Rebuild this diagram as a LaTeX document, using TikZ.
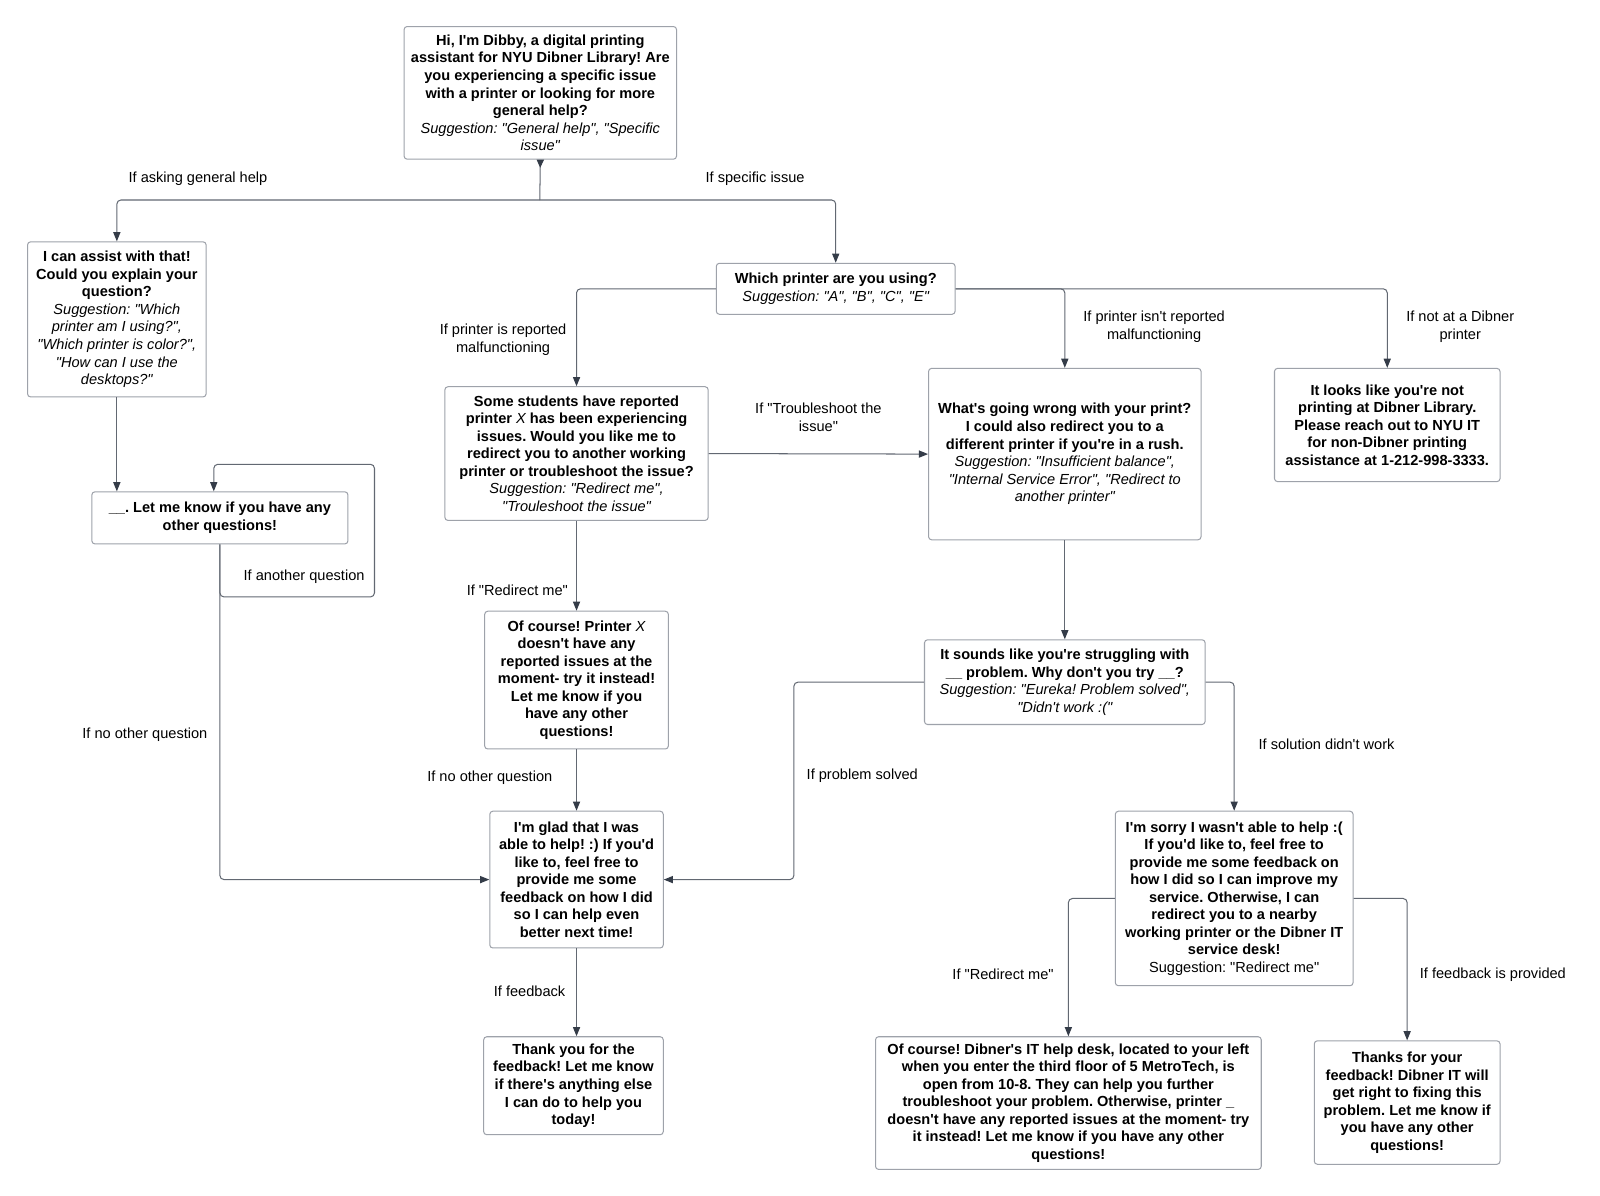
\documentclass[tikz,border=0pt]{standalone}
\usepackage{fontspec}
\setmainfont{Liberation Sans}[Ligatures=TeXOff]
\usetikzlibrary{arrows.meta, positioning}
\definecolor{edgegray}{RGB}{158,162,170}
\definecolor{linkgray}{RGB}{98,104,114}
\definecolor{tipdark}{RGB}{52,60,72}
\newcommand{\hint}[1]{{\mdseries\itshape #1}}
\frenchspacing

\begin{document}
\begin{tikzpicture}[x=1pt, y=-1pt,
  msgbox/.style={draw=edgegray, line width=1pt, fill=white, rounded corners=3pt, align=center, inner sep=3pt,
    font=\fontsize{14.3}{17.2}\selectfont\bfseries},
  condlabel/.style={align=center, inner sep=1pt, font=\fontsize{14.3}{17.2}\selectfont},
  linkplain/.style={draw=linkgray, line width=1pt, rounded corners=4pt},
  linkarrow/.style={linkplain, -{Triangle[length=9pt, width=7pt, color=tipdark]}}]

  \path[use as bounding box, fill=white] (0,0) rectangle (1568,1172);

  % messages
  \node[msgbox, minimum width=267pt, minimum height=130pt] (start) at (529.5,91) {
    Hi, I'm Dibby, a digital printing\\
    assistant for NYU Dibner Library! Are\\
    you experiencing a specific issue\\
    with a printer or looking for more\\
    general help?\\
    \hint{Suggestion: "General help", "Specific}\\
    \hint{issue"}};
  \node[msgbox, minimum width=175pt, minimum height=152pt] (general) at (114.5,313) {
    I can assist with that!\\
    Could you explain your\\
    question?\\
    \hint{Suggestion: "Which}\\
    \hint{printer am I using?",}\\
    \hint{"Which printer is color?",}\\
    \hint{"How can I use the}\\
    \hint{desktops?"}};
  \node[msgbox, minimum width=234pt, minimum height=50pt] (which) at (819,283) {
    Which printer are you using?\\
    \hint{Suggestion: "A", "B", "C", "E"}};
  \node[msgbox, minimum width=258pt, minimum height=131pt] (reported) at (565,444.5) {
    Some students have reported\\
    printer \hint{X} has been experiencing\\
    issues. Would you like me to\\
    redirect you to another working\\
    printer or troubleshoot the issue?\\
    \hint{Suggestion: "Redirect me",}\\
    \hint{"Trouleshoot the issue"}};
  \node[msgbox, minimum width=267pt, minimum height=168pt] (whatwrong) at (1043.5,445) {
    What's going wrong with your print?\\
    I could also redirect you to a\\
    different printer if you're in a rush.\\
    \hint{Suggestion: "Insufficient balance",}\\
    \hint{"Internal Service Error", "Redirect to}\\
    \hint{another printer"}};
  \node[msgbox, minimum width=221pt, minimum height=111pt] (notdibner) at (1359.5,416.5) {
    It looks like you're not\\
    printing at Dibner Library.\\
    Please reach out to NYU IT\\
    for non-Dibner printing\\
    assistance at 1-212-998-3333.};
  \node[msgbox, minimum width=251pt, minimum height=51pt] (letmeknow) at (215.5,507.5) {
    \_\_. Let me know if you have any\\
    other questions!};
  \node[msgbox, minimum width=180pt, minimum height=135pt] (ofcourse) at (565,666.5) {
    Of course! Printer \hint{X}\\
    doesn't have any\\
    reported issues at the\\
    moment- try it instead!\\
    Let me know if you\\
    have any other\\
    questions!};
  \node[msgbox, minimum width=275pt, minimum height=83pt] (sounds) at (1043.5,668.5) {
    It sounds like you're struggling with\\
    \_\_ problem. Why don't you try \_\_?\\
    \hint{Suggestion: "Eureka! Problem solved",}\\
    \hint{"Didn't work :("}};
  \node[msgbox, minimum width=170pt, minimum height=134pt] (glad) at (565,862) {
    I'm glad that I was\\
    able to help! :) If you'd\\
    like to, feel free to\\
    provide me some\\
    feedback on how I did\\
    so I can help even\\
    better next time!};
  \node[msgbox, minimum width=233pt, minimum height=171pt] (sorry) at (1209.5,880.5) {
    I'm sorry I wasn't able to help :(\\
    If you'd like to, feel free to\\
    provide me some feedback on\\
    how I did so I can improve my\\
    service. Otherwise, I can\\
    redirect you to a nearby\\
    working printer or the Dibner IT\\
    service desk!\\
    {\mdseries Suggestion: "Redirect me"}};
  \node[msgbox, minimum width=176pt, minimum height=96pt] (thankyou) at (562,1064) {
    Thank you for the\\
    feedback! Let me know\\
    if there's anything else\\
    I can do to help you\\
    today!};
  \node[msgbox, minimum width=378pt, minimum height=130pt] (ithelp) at (1047,1081) {
    Of course! Dibner's IT help desk, located to your left\\
    when you enter the third floor of 5 MetroTech, is\\
    open from 10-8. They can help you further\\
    troubleshoot your problem. Otherwise, printer \_\\
    doesn't have any reported issues at the moment- try\\
    it instead! Let me know if you have any other\\
    questions!};
  \node[msgbox, minimum width=182pt, minimum height=121pt] (thanksfb) at (1379,1080.5) {
    Thanks for your\\
    feedback! Dibner IT will\\
    get right to fixing this\\
    problem. Let me know if\\
    you have any other\\
    questions!};

  % bends
  \coordinate (split) at (529,196);
  \coordinate (loopbot) at (367,585);
  \coordinate (looptop) at (367,455);
  \coordinate (solvedbend) at (778,760);

  % connectors
  \draw[linkplain, {Triangle[reversed, length=8pt, width=7pt, color=tipdark]}-] (start.south) -- (split);
  \draw[linkarrow] (split) -| (general.north);
  \draw[linkarrow] (split) -| (which.north);
  \draw[linkarrow] (which.west) -| (reported.north);
  \draw[linkarrow] (which.east) -| (whatwrong.north);
  \draw[linkarrow] (which.east) -| (notdibner.north);
  \draw[linkarrow] (reported.east) -- (whatwrong.west);
  \draw[linkarrow] (reported.south) -- (ofcourse.north);
  \draw[linkarrow] (general.south) -- (general.south |- letmeknow.north);
  \draw[linkarrow] (letmeknow.south) |- (loopbot) -- (looptop) -| ([xshift=-6pt]letmeknow.north);
  \draw[linkarrow] (letmeknow.south) |- (glad.west);
  \draw[linkarrow] (ofcourse.south) -- (glad.north);
  \draw[linkarrow] (whatwrong.south) -- (sounds.north);
  \draw[linkarrow] (sounds.west) -| (solvedbend) |- (glad.east);
  \draw[linkarrow] (sounds.east) -| (sorry.north);
  \draw[linkarrow] (glad.south) -- (glad.south |- thankyou.north);
  \draw[linkarrow] (sorry.west) -| (ithelp.north);
  \draw[linkarrow] (sorry.east) -| (thanksfb.north);

  % conditions
  \node[condlabel] (lgeneral) at (194,175) {If asking general help};
  \node[condlabel] (lspecific) at (740,175) {If specific issue};
  \node[condlabel] (lreported) at (493,333) {If printer is reported\\malfunctioning};
  \node[condlabel] (lnotreported) at (1131,320) {If printer isn't reported\\malfunctioning};
  \node[condlabel] (lnotdibner) at (1431,320) {If not at a Dibner\\printer};
  \node[condlabel] (ltrouble) at (802,409) {If "Troubleshoot the\\issue"};
  \node[condlabel] (lredirect) at (507,578) {If "Redirect me"};
  \node[condlabel] (lanother) at (298,565) {If another question};
  \node[condlabel] (lnoother) at (142,720) {If no other question};
  \node[condlabel] (lnootherb) at (480,762) {If no other question};
  \node[condlabel] (lsolved) at (845,760) {If problem solved};
  \node[condlabel] (lfailed) at (1300,729) {If solution didn't work};
  \node[condlabel] (lfeedback) at (519,971) {If feedback};
  \node[condlabel] (lredirectb) at (983,955) {If "Redirect me"};
  \node[condlabel] (lprovided) at (1463,955) {If feedback is provided};
\end{tikzpicture}
\end{document}
